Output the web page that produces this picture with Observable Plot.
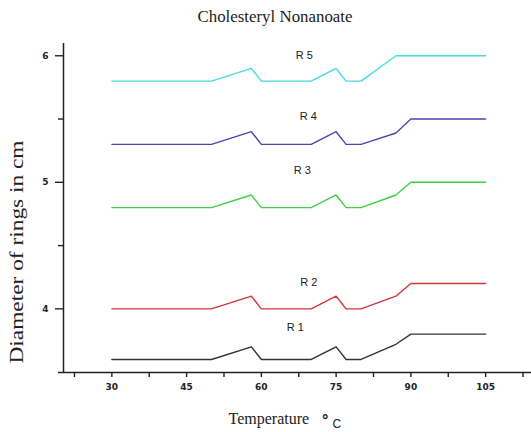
<!DOCTYPE html>
<html>
<head>
<meta charset="utf-8">
<script src="https://cdn.jsdelivr.net/npm/d3@7"></script>
<script src="https://cdn.jsdelivr.net/npm/@observablehq/plot@0.6"></script>
<style>
  html, body { margin: 0; padding: 0; background: #fff; }
  svg g[aria-label="x-axis tick label"] text,
  svg g[aria-label="y-axis tick label"] text { font-family: "DejaVu Sans", sans-serif; font-weight: bold; font-size: 9px; fill: #222; }
</style>
</head>
<body>
<div id="chart"></div>
<script>
// Data
const temps   = [30, 50, 58, 60, 70, 75, 77, 80, 87, 90, 105];
const ring1   = [3.6, 3.6, 3.7, 3.6, 3.6, 3.7, 3.6, 3.6, 3.72, 3.8, 3.8];
const ring2   = [4.0, 4.0, 4.1, 4.0, 4.0, 4.1, 4.0, 4.0, 4.1, 4.2, 4.2];
const ring3   = [4.8, 4.8, 4.9, 4.8, 4.8, 4.9, 4.8, 4.8, 4.9, 5.0, 5.0];
const ring4   = [5.3, 5.3, 5.4, 5.3, 5.3, 5.4, 5.3, 5.3, 5.39, 5.5, 5.5];
const temps5  = [30, 50, 58, 60, 70, 75, 77, 80, 87, 105];
const ring5   = [5.8, 5.8, 5.9, 5.8, 5.8, 5.9, 5.8, 5.8, 6.0, 6.0];

const seriesNames  = ["R 1", "R 2", "R 3", "R 4", "R 5"];
const seriesColors = ["#333333", "#d2343f", "#3fcf44", "#4b47b2", "#45dcdc"];
// label anchor points in data coordinates
const labelTemps  = [66.8, 69.5, 68.2, 69.4, 68.6];
const labelValues = [3.85, 4.205, 5.09, 5.52, 6.0];

const xMajorTicks = [30, 45, 60, 75, 90, 105];
const xMinorTicks = [22.5, 37.5, 52.5, 67.5, 82.5, 97.5, 112.5];
const yMajorTicks = [4, 5, 6];
const yMinorTicks = [4.5, 5.5];

const titleText = "Cholesteryl Nonanoate";
const yLabelText = "Diameter of rings in cm";
const xLabelText = "Temperature";

const seriesTemps = [temps, temps, temps, temps, temps5];
const seriesVals  = [ring1, ring2, ring3, ring4, ring5];
const rows = [];
seriesNames.forEach((name, k) => {
  seriesTemps[k].forEach((t, i) => rows.push({series: name, t, v: seriesVals[k][i]}));
});
const labels = seriesNames.map((name, k) => ({series: name, t: labelTemps[k], v: labelValues[k]}));

const xDomain = [20.3, 114.2];
const yDomain = [3.497, 6.097];

const chart = Plot.plot({
  width: 531,
  height: 432,
  marginLeft: 63,
  marginRight: 0,
  marginTop: 43,
  marginBottom: 60,
  style: {background: "#fff", color: "#222", fontFamily: "Liberation Sans, Arial, sans-serif"},
  x: {domain: xDomain},
  y: {domain: yDomain},
  color: {domain: seriesNames, range: seriesColors},
  marks: [
    Plot.ruleX([xDomain[0]], {stroke: "#222", strokeWidth: 1.5}),
    Plot.ruleY([yDomain[0]], {x1: 19.3, x2: xDomain[1], stroke: "#222", strokeWidth: 1.5}),
    Plot.axisY({ticks: yMajorTicks, tickSize: 8, tickPadding: 7, tickFormat: d => String(d), label: null, strokeWidth: 1.4}),
    Plot.axisY({ticks: yMinorTicks, tickSize: 5, tickFormat: () => "", label: null, strokeWidth: 1.4}),
    Plot.axisX({ticks: xMajorTicks, tickSize: 5, tickPadding: 6, tickFormat: d => String(d), label: null, strokeWidth: 1.4}),
    Plot.axisX({ticks: xMinorTicks, tickSize: 5, tickFormat: () => "", label: null, strokeWidth: 1.4}),
    Plot.line(rows, {x: "t", y: "v", z: "series", stroke: "series", strokeWidth: 1.4}),
    Plot.text(labels, {x: "t", y: "v", text: "series", fill: "#222", fontSize: 11, fontFamily: "Liberation Sans, Arial, sans-serif"}),
    Plot.text([titleText], {frameAnchor: "top", text: d => d, dx: -22.5, dy: -22, lineAnchor: "bottom", fontSize: 16.5, fill: "#222", fontFamily: "Liberation Serif, Times New Roman, serif"}),
    Plot.text([yLabelText], {frameAnchor: "left", text: d => d, rotate: -90, textAnchor: "start", dx: -41, dy: 155.5, lineAnchor: "bottom", fontSize: 18, fill: "#222", fontFamily: "Liberation Serif, Times New Roman, serif"}),
    Plot.text([xLabelText], {frameAnchor: "bottom", text: d => d, textAnchor: "start", dx: -69, dy: 51, lineAnchor: "bottom", fontSize: 16, fill: "#222", fontFamily: "Liberation Serif, Times New Roman, serif"}),
    Plot.text(["°"], {frameAnchor: "bottom", text: d => d, textAnchor: "start", dx: 24, dy: 53, lineAnchor: "bottom", fontSize: 15, fontWeight: "bold", fill: "#222", fontFamily: "DejaVu Sans, sans-serif"}),
    Plot.text(["C"], {frameAnchor: "bottom", text: d => d, textAnchor: "start", dx: 35, dy: 55, lineAnchor: "bottom", fontSize: 12, fill: "#222", fontFamily: "Liberation Sans, Arial, sans-serif"})
  ]
});

// stretch title and y label to the reference lengths
d3.select(chart).selectAll("text").each(function() {
  const t = this.textContent;
  if (t === titleText) { this.setAttribute("textLength", 155); this.setAttribute("lengthAdjust", "spacingAndGlyphs"); }
  if (t === yLabelText) { this.setAttribute("textLength", 223); this.setAttribute("lengthAdjust", "spacingAndGlyphs"); }
});

document.getElementById("chart").appendChild(chart);
</script>
</body>
</html>
